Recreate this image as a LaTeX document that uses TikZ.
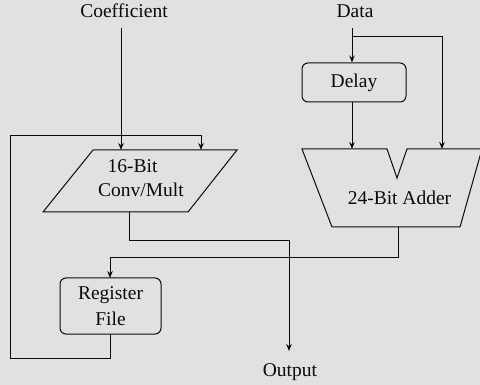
\documentclass[tikz,border=0pt]{standalone}
\usepackage{fontspec}
\setmainfont{Liberation Serif}
\usetikzlibrary{arrows.meta}
\definecolor{bg}{RGB}{225,225,225}
\definecolor{ink}{RGB}{10,10,10}
\begin{document}
\begin{tikzpicture}[x=1pt,y=-1pt,
  wire/.style={draw=ink, line width=1pt},
  arr/.style={wire, -{Stealth[length=7pt,width=5.5pt]}},
  lbl/.style={font=\fontsize{19.5}{26}\selectfont, text=ink, inner sep=0pt},
  blk/.style={draw=ink, line width=1pt, rounded corners=6pt, inner sep=0pt,
              font=\fontsize{19.5}{26}\selectfont, text=ink, align=center},
  unit/.style={draw=ink, line width=1pt, line join=miter}]
\useasboundingbox[fill=bg] (0,0) rectangle (480,385);

% --- input and output labels
\node[lbl, anchor=base] (coef) at (124,17.5) {Coefficient};
\node[lbl, anchor=base] (data) at (355,17.5) {Data};
\node[lbl, anchor=base] (out)  at (290,377) {Output};

% --- rounded blocks
\node[blk, minimum width=104pt, minimum height=39pt] (delay) at (354,82.5) {Delay};
\node[blk, minimum width=101pt, minimum height=56pt] (reg) at (110.5,306) {Register\\File};

% --- 16-bit converter / multiplier (parallelogram)
\draw[unit] (93,150) -- (237,150) -- (188,212) -- (43,212) -- cycle;
\node[lbl, anchor=base] (multA) at (132.5,173) {16-Bit};
\node[lbl, anchor=base] (multB) at (141,197) {Conv/Mult};

% --- 24-bit adder (notched trapezoid)
\draw[unit] (302,149) -- (387,149) -- (397,178) -- (407,149) -- (482,149)
  -- (460,227) -- (332,227) -- cycle;
\node[lbl, anchor=base] (addT) at (399.5,205) {24-Bit Adder};

% --- connection points
\coordinate (coefS)   at (121,28);
\coordinate (mulIn1)  at (121,150);
\coordinate (mulIn2)  at (201,150);
\coordinate (mulOut)  at (129,212);
\coordinate (dataS)   at (352,28);
\coordinate (dataTap) at (352,37);
\coordinate (addIn1)  at (352,149);
\coordinate (addIn2)  at (442,149);
\coordinate (addOut)  at (398,227);
\coordinate (outEnd)  at (289,351);
\coordinate (regIn)   at (110,278);
\coordinate (regOut)  at (110,334);

% --- connectors
\draw[arr] (coefS) -- (mulIn1);
\draw[arr] (dataS) -- (delay.north -| dataS);
\draw[arr] (dataTap) -| (addIn2);
\draw[arr] (delay.south -| addIn1) -- (addIn1);
\draw[arr] (mulOut) |- (289,241) -- (outEnd);
\draw[arr] (addOut) |- (110,258) -- (regIn);
\draw[arr] (regOut) |- (10,358) |- (201,136) -- (mulIn2);
\end{tikzpicture}
\end{document}
